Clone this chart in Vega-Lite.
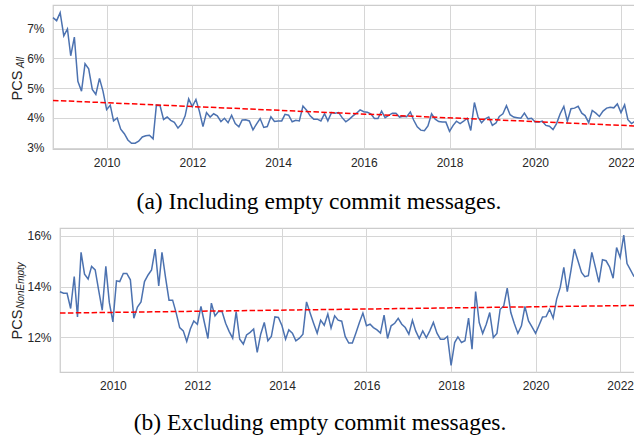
{
  "$schema": "https://vega.github.io/schema/vega-lite/v6.json",
  "padding": {"left": 0, "top": 4, "right": 0, "bottom": 0},
  "spacing": {"row": 12, "column": 1},
  "columns": 2,
  "align": "none",
  "datasets": {
    "pcs": [
      {"d":"2008-10-01","a":7.37,"n":13.8},{"d":"2008-11-01","a":7.27,"n":13.74},{"d":"2008-12-01","a":7.54,"n":13.74},
      {"d":"2009-01-01","a":6.76,"n":13.14},{"d":"2009-02-01","a":6.99,"n":14.4},{"d":"2009-03-01","a":6.09,"n":12.81},{"d":"2009-04-01","a":6.72,"n":15.35},{"d":"2009-05-01","a":5.23,"n":14.49},{"d":"2009-06-01","a":4.9,"n":14.3},{"d":"2009-07-01","a":5.82,"n":14.8},{"d":"2009-08-01","a":5.65,"n":14.66},{"d":"2009-09-01","a":4.96,"n":13.83},{"d":"2009-10-01","a":4.79,"n":13.07},{"d":"2009-11-01","a":5.33,"n":14.8},{"d":"2009-12-01","a":4.9,"n":13.38},
      {"d":"2010-01-01","a":4.28,"n":12.61},{"d":"2010-02-01","a":4.43,"n":14.23},{"d":"2010-03-01","a":3.9,"n":14.2},{"d":"2010-04-01","a":4.0,"n":14.52},{"d":"2010-05-01","a":3.62,"n":14.52},{"d":"2010-06-01","a":3.47,"n":14.27},{"d":"2010-07-01","a":3.26,"n":12.76},{"d":"2010-08-01","a":3.15,"n":13.2},{"d":"2010-09-01","a":3.15,"n":13.4},{"d":"2010-10-01","a":3.22,"n":14.2},{"d":"2010-11-01","a":3.36,"n":14.46},{"d":"2010-12-01","a":3.4,"n":14.66},
      {"d":"2011-01-01","a":3.42,"n":15.48},{"d":"2011-02-01","a":3.3,"n":14.03},{"d":"2011-03-01","a":4.43,"n":15.35},{"d":"2011-04-01","a":4.42,"n":14.36},{"d":"2011-05-01","a":3.95,"n":13.47},{"d":"2011-06-01","a":4.03,"n":13.47},{"d":"2011-07-01","a":3.92,"n":12.98},{"d":"2011-08-01","a":3.85,"n":12.39},{"d":"2011-09-01","a":3.66,"n":12.26},{"d":"2011-10-01","a":3.79,"n":11.84},{"d":"2011-11-01","a":4.07,"n":12.33},{"d":"2011-12-01","a":4.64,"n":12.65},
      {"d":"2012-01-01","a":4.38,"n":12.52},{"d":"2012-02-01","a":4.62,"n":13.22},{"d":"2012-03-01","a":4.23,"n":12.6},{"d":"2012-04-01","a":3.71,"n":11.96},{"d":"2012-05-01","a":4.18,"n":13.35},{"d":"2012-06-01","a":4.03,"n":12.85},{"d":"2012-07-01","a":4.14,"n":13.02},{"d":"2012-08-01","a":4.07,"n":13.02},{"d":"2012-09-01","a":3.88,"n":12.56},{"d":"2012-10-01","a":3.99,"n":12.24},{"d":"2012-11-01","a":3.84,"n":11.97},{"d":"2012-12-01","a":4.09,"n":13.02},
      {"d":"2013-01-01","a":3.81,"n":11.93},{"d":"2013-02-01","a":3.7,"n":11.74},{"d":"2013-03-01","a":3.93,"n":12.1},{"d":"2013-04-01","a":3.94,"n":12.2},{"d":"2013-05-01","a":3.9,"n":12.33},{"d":"2013-06-01","a":3.6,"n":11.41},{"d":"2013-07-01","a":3.79,"n":12.13},{"d":"2013-08-01","a":3.98,"n":12.59},{"d":"2013-09-01","a":3.68,"n":11.87},{"d":"2013-10-01","a":3.71,"n":12.04},{"d":"2013-11-01","a":4.04,"n":12.81},{"d":"2013-12-01","a":3.88,"n":12.79},
      {"d":"2014-01-01","a":3.9,"n":12.46},{"d":"2014-02-01","a":3.9,"n":11.93},{"d":"2014-03-01","a":4.12,"n":12.3},{"d":"2014-04-01","a":4.09,"n":12.17},{"d":"2014-05-01","a":3.87,"n":11.87},{"d":"2014-06-01","a":3.92,"n":11.97},{"d":"2014-07-01","a":3.9,"n":12.13},{"d":"2014-08-01","a":4.4,"n":13.4},{"d":"2014-09-01","a":4.26,"n":12.96},{"d":"2014-10-01","a":4.07,"n":12.56},{"d":"2014-11-01","a":3.96,"n":12.17},{"d":"2014-12-01","a":3.96,"n":12.68},
      {"d":"2015-01-01","a":3.9,"n":12.48},{"d":"2015-02-01","a":4.14,"n":12.92},{"d":"2015-03-01","a":3.9,"n":12.37},{"d":"2015-04-01","a":4.18,"n":12.85},{"d":"2015-05-01","a":4.16,"n":12.68},{"d":"2015-06-01","a":4.18,"n":12.64},{"d":"2015-07-01","a":4.01,"n":12.04},{"d":"2015-08-01","a":3.87,"n":11.78},{"d":"2015-09-01","a":3.96,"n":11.78},{"d":"2015-10-01","a":4.07,"n":12.17},{"d":"2015-11-01","a":4.16,"n":12.59},{"d":"2015-12-01","a":4.27,"n":12.96},
      {"d":"2016-01-01","a":4.21,"n":12.46},{"d":"2016-02-01","a":4.19,"n":12.52},{"d":"2016-03-01","a":4.14,"n":12.39},{"d":"2016-04-01","a":3.98,"n":12.3},{"d":"2016-05-01","a":3.98,"n":12.17},{"d":"2016-06-01","a":4.23,"n":12.88},{"d":"2016-07-01","a":4.01,"n":11.96},{"d":"2016-08-01","a":4.09,"n":12.46},{"d":"2016-09-01","a":4.16,"n":12.56},{"d":"2016-10-01","a":4.16,"n":12.75},{"d":"2016-11-01","a":4.03,"n":12.52},{"d":"2016-12-01","a":4.06,"n":12.39},
      {"d":"2017-01-01","a":4.04,"n":12.13},{"d":"2017-02-01","a":4.2,"n":12.68},{"d":"2017-03-01","a":3.93,"n":12.26},{"d":"2017-04-01","a":3.7,"n":11.96},{"d":"2017-05-01","a":3.59,"n":12.26},{"d":"2017-06-01","a":3.57,"n":11.99},{"d":"2017-07-01","a":3.73,"n":12.26},{"d":"2017-08-01","a":4.14,"n":12.59},{"d":"2017-09-01","a":3.96,"n":12.17},{"d":"2017-10-01","a":3.88,"n":11.93},{"d":"2017-11-01","a":3.86,"n":11.93},{"d":"2017-12-01","a":3.86,"n":12.04},
      {"d":"2018-01-01","a":3.55,"n":10.9},{"d":"2018-02-01","a":3.75,"n":11.8},{"d":"2018-03-01","a":3.89,"n":12.02},{"d":"2018-04-01","a":3.81,"n":11.8},{"d":"2018-05-01","a":3.89,"n":11.87},{"d":"2018-06-01","a":3.99,"n":12.76},{"d":"2018-07-01","a":3.58,"n":11.54},{"d":"2018-08-01","a":4.52,"n":13.81},{"d":"2018-09-01","a":4.03,"n":12.59},{"d":"2018-10-01","a":3.84,"n":12.16},{"d":"2018-11-01","a":3.97,"n":12.52},{"d":"2018-12-01","a":4.03,"n":12.98},
      {"d":"2019-01-01","a":3.75,"n":12.0},{"d":"2019-02-01","a":3.83,"n":12.16},{"d":"2019-03-01","a":4.05,"n":13.11},{"d":"2019-04-01","a":4.14,"n":13.24},{"d":"2019-05-01","a":4.41,"n":13.94},{"d":"2019-06-01","a":4.11,"n":12.98},{"d":"2019-07-01","a":4.03,"n":12.55},{"d":"2019-08-01","a":4.01,"n":12.16},{"d":"2019-09-01","a":3.99,"n":12.46},{"d":"2019-10-01","a":4.16,"n":13.22},{"d":"2019-11-01","a":3.97,"n":12.65},{"d":"2019-12-01","a":3.99,"n":12.42},
      {"d":"2020-01-01","a":3.86,"n":12.16},{"d":"2020-02-01","a":3.86,"n":12.49},{"d":"2020-03-01","a":3.89,"n":12.81},{"d":"2020-04-01","a":3.75,"n":12.82},{"d":"2020-05-01","a":3.72,"n":13.11},{"d":"2020-06-01","a":3.61,"n":12.76},{"d":"2020-07-01","a":3.81,"n":13.51},{"d":"2020-08-01","a":4.14,"n":13.97},{"d":"2020-09-01","a":4.39,"n":14.76},{"d":"2020-10-01","a":3.89,"n":13.8},{"d":"2020-11-01","a":4.31,"n":14.62},{"d":"2020-12-01","a":4.33,"n":15.48},
      {"d":"2021-01-01","a":4.39,"n":15.02},{"d":"2021-02-01","a":4.16,"n":14.56},{"d":"2021-03-01","a":4.08,"n":14.39},{"d":"2021-04-01","a":3.84,"n":14.43},{"d":"2021-05-01","a":4.25,"n":15.35},{"d":"2021-06-01","a":4.16,"n":14.76},{"d":"2021-07-01","a":4.05,"n":14.17},{"d":"2021-08-01","a":4.23,"n":15.06},{"d":"2021-09-01","a":4.33,"n":15.02},{"d":"2021-10-01","a":4.36,"n":14.78},{"d":"2021-11-01","a":4.34,"n":14.33},{"d":"2021-12-01","a":4.47,"n":15.54},
      {"d":"2022-01-01","a":4.18,"n":15.15},{"d":"2022-02-01","a":4.44,"n":16.03},{"d":"2022-03-01","a":3.94,"n":14.91},{"d":"2022-04-01","a":3.81,"n":14.65},{"d":"2022-05-01","a":3.89,"n":14.39}
    ],
    "trend": [
      {"d":"2008-10-01","a":4.59,"n":12.96},
      {"d":"2022-05-01","a":3.73,"n":13.26}
    ],
    "blank": [{}]
  },
  "concat": [
    {
      "width": 1, "height": 144,
      "data": {"name": "blank"},
      "mark": {"type": "point", "opacity": 0},
      "view": {"stroke": null}
    },
    {
      "width": 583,
      "height": 144,
      "title": {"text": "(a) Including empty commit messages.", "orient": "bottom", "anchor": "middle", "font": "Liberation Serif", "fontSize": 23.5, "fontWeight": "normal", "color": "#000000", "offset": 22, "dx": -25.5},
      "layer": [
        {
          "data": {"name": "pcs"},
          "mark": {"type": "line", "color": "#4c72b0", "strokeWidth": 1.5},
          "encoding": {
            "x": {"field": "d", "type": "temporal",
              "scale": {"type": "utc", "domain": [{"year": 2008, "month": 10, "date": 1, "utc": true}, {"year": 2022, "month": 5, "date": 9, "utc": true}]},
              "axis": {"title": null, "format": "%Y", "tickCount": {"interval": "year", "step": 2}, "labelPadding": 8}},
            "y": {"field": "a", "type": "quantitative",
              "scale": {"domain": [2.956, 7.797], "nice": false, "zero": false},
              "axis": {"values": [3, 4, 5, 6, 7], "labelExpr": "datum.value + '%'", "labelPadding": 9,
                "title": "PCS", "titleX": -32, "titleY": 80, "titleAngle": 270, "titleAlign": "center", "titleBaseline": "alphabetic",
                "titleFontSize": 14.5, "titleFontWeight": "normal"}}
          }
        },
        {
          "data": {"name": "trend"},
          "mark": {"type": "line", "color": "#ff0000", "strokeWidth": 1.5, "strokeDash": [5.5, 2.4]},
          "encoding": {
            "x": {"field": "d", "type": "temporal"},
            "y": {"field": "a", "type": "quantitative",
              "axis": {"orient": "left", "labels": false, "grid": false, "ticks": false, "domain": false,
                "title": "All", "titleX": -30, "titleY": 57, "titleAngle": 270, "titleAlign": "center", "titleBaseline": "alphabetic",
                "titleFontSize": 10, "titleFontStyle": "italic", "titleFontWeight": "normal"}}
          }
        }
      ],
      "resolve": {"axis": {"y": "independent"}}
    },
    {
      "width": 1, "height": 144,
      "data": {"name": "blank"},
      "mark": {"type": "point", "opacity": 0},
      "view": {"stroke": null}
    },
    {
      "width": 575,
      "height": 144,
      "title": {"text": "(b) Excluding empty commit messages.", "orient": "bottom", "anchor": "middle", "font": "Liberation Serif", "fontSize": 23.5, "fontWeight": "normal", "color": "#000000", "offset": 20, "dx": -27.5},
      "layer": [
        {
          "data": {"name": "pcs"},
          "mark": {"type": "line", "color": "#4c72b0", "strokeWidth": 1.5},
          "encoding": {
            "x": {"field": "d", "type": "temporal",
              "scale": {"type": "utc", "domain": [{"year": 2008, "month": 10, "date": 1, "utc": true}, {"year": 2022, "month": 5, "date": 9, "utc": true}]},
              "axis": {"title": null, "format": "%Y", "tickCount": {"interval": "year", "step": 2}, "labelPadding": 8}},
            "y": {"field": "n", "type": "quantitative",
              "scale": {"domain": [10.64, 16.31], "nice": false, "zero": false},
              "axis": {"values": [12, 14, 16], "labelExpr": "datum.value + '%'", "labelPadding": 9,
                "title": "PCS", "titleX": -39, "titleY": 96, "titleAngle": 270, "titleAlign": "center", "titleBaseline": "alphabetic",
                "titleFontSize": 14.5, "titleFontWeight": "normal"}}
          }
        },
        {
          "data": {"name": "trend"},
          "mark": {"type": "line", "color": "#ff0000", "strokeWidth": 1.5, "strokeDash": [5.5, 2.4]},
          "encoding": {
            "x": {"field": "d", "type": "temporal"},
            "y": {"field": "n", "type": "quantitative",
              "axis": {"orient": "left", "labels": false, "grid": false, "ticks": false, "domain": false,
                "title": "NonEmpty", "titleX": -37, "titleY": 57, "titleAngle": 270, "titleAlign": "center", "titleBaseline": "alphabetic",
                "titleFontSize": 10, "titleFontStyle": "italic", "titleFontWeight": "normal"}}
          }
        }
      ],
      "resolve": {"axis": {"y": "independent"}}
    }
  ],
  "config": {
    "font": "Liberation Sans",
    "view": {"stroke": "#cccccc", "strokeWidth": 1.25},
    "axis": {"labelFont": "Liberation Sans", "labelFontSize": 12, "labelColor": "#262626", "titleFont": "Liberation Sans", "titleColor": "#262626",
      "ticks": false, "domain": false, "gridColor": "#d6d6d6", "gridWidth": 1}
  }
}
